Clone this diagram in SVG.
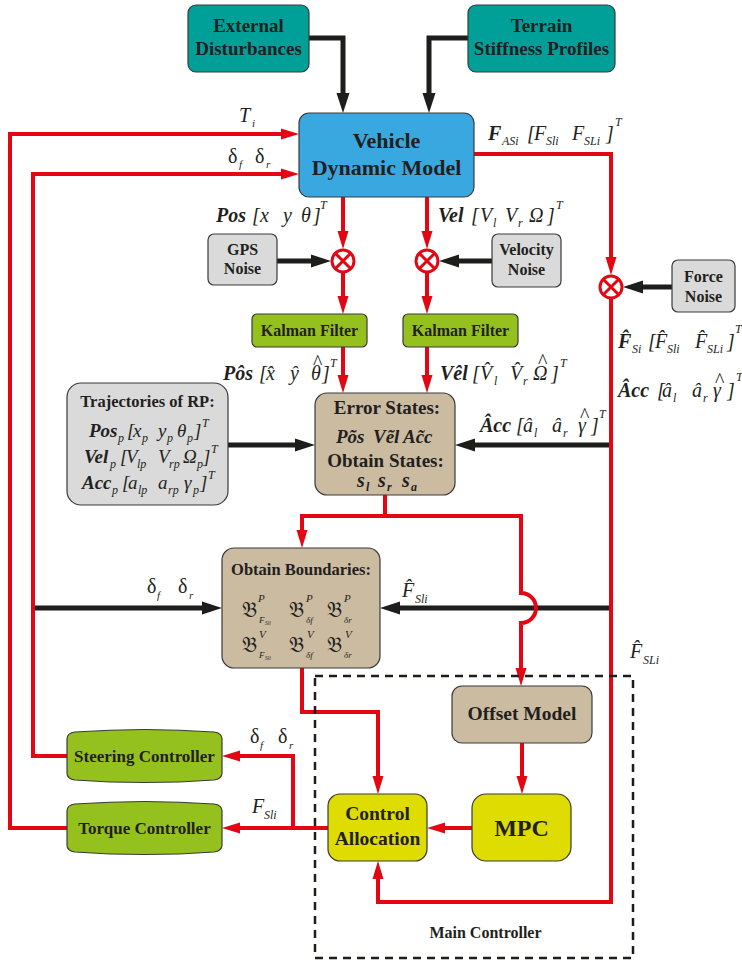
<svg xmlns="http://www.w3.org/2000/svg" width="742" height="965" viewBox="0 0 742 965">
<style>
.t{font-family:"Liberation Serif","Times New Roman",serif;font-weight:bold;fill:#231f20;text-anchor:middle}
.m{font-family:"Liberation Serif","Times New Roman",serif;font-style:italic;font-size:20px;fill:#231f20}
.tr{font-size:19px}
.bi{font-weight:bold}
.up{font-style:normal}
.s{font-size:12px}
.ss{font-size:11px}
.hat{font-style:normal;font-size:20px}
.fk{font-family:"DejaVu Serif","DejaVu Sans","Noto Sans",serif;font-size:21px;font-style:normal}
.box{stroke:#3a3a3a;stroke-width:1.2}
.teal{fill:#00A099}
.blue{fill:#3AA8E0}
.gray{fill:#DADADA}
.green{fill:#95C11F}
.tan{fill:#CBBBA1}
.yel{fill:#DEDC00}
.r{fill:none;stroke:#E30613;stroke-width:4}
.k{fill:none;stroke:#1d1d1b;stroke-width:5}
.ra{marker-end:url(#ar)}
.ka{marker-end:url(#ak)}
.mul{fill:#fff;stroke:#E30613;stroke-width:3}
</style>
<defs>
<marker id="ar" markerUnits="userSpaceOnUse" markerWidth="18" markerHeight="12" refX="10" refY="6" orient="auto"><path d="M0,0.5 L18,6 L0,11.5 Z" fill="#E30613"/></marker>
<marker id="ak" markerUnits="userSpaceOnUse" markerWidth="20" markerHeight="14" refX="10" refY="7" orient="auto"><path d="M0,0.5 L20,7 L0,13.5 Z" fill="#1d1d1b"/></marker>
<g id="mulsym"><circle cx="0" cy="0" r="11" class="mul"/><path d="M-7.8,-7.8 L7.8,7.8 M7.8,-7.8 L-7.8,7.8" stroke="#E30613" stroke-width="3"/></g>
<path id="ctrlshape" d="M67,739 Q67,733 75,732 Q144.5,727 214,732 Q222,733 222,739 V773 Q222,779 214,780 Q144.5,785 75,780 Q67,779 67,773 Z"/>
</defs>

<g id="connectors">
  <path class="k ka" d="M309,38 H343 V103"/>
  <path class="k ka" d="M468,38 H429 V103"/>
  <path class="k ka" d="M277,261 H321"/>
  <path class="k ka" d="M492,261 H449"/>
  <path class="k ka" d="M672,287 H633"/>
  <path class="k ka" d="M228,445 H305"/>
  <path class="k ka" d="M611,445 H465"/>
  <path class="k ka" d="M33,608 H212"/>
  <path class="k ka" d="M611,608 H390"/>

  <path class="r ra" d="M67,828 H10 V134 H291"/>
  <path class="r ra" d="M67,756 H33 V174 H291"/>
  <path class="r ra" d="M474,154 H611 V267"/>
  <path class="r ra" d="M343,197 V241"/>
  <path class="r ra" d="M427,197 V241"/>
  <path class="r ra" d="M343,273 V306"/>
  <path class="r ra" d="M427,273 V306"/>
  <path class="r ra" d="M343,347 V385"/>
  <path class="r ra" d="M427,347 V385"/>
  <path class="r" d="M385,495 V516"/>
  <path class="r" d="M300,516 H523"/>
  <path class="r ra" d="M302,516 V540"/>
  <path class="r ra" d="M521,516 V593 A15,15 0 0 1 521,623 V678"/>
  <path class="r ra" d="M611,299 V902 H378 V869"/>
  <path class="r ra" d="M302,668 V712 H378 V786"/>
  <path class="r ra" d="M522,743 V786"/>
  <path class="r ra" d="M472,828 H435"/>
  <path class="r ra" d="M328,828 H230"/>
  <path class="r ra" d="M293,828 V756 H230"/>
</g>

<rect id="main-controller-frame" x="315" y="676" width="318" height="282" fill="none" stroke="#1d1d1b" stroke-width="2.5" stroke-dasharray="8,6"/>

<g id="external">
  <rect class="box teal" x="188" y="5" width="121" height="67" rx="8"/>
  <text class="t" font-size="19" x="248.5" y="32">External</text>
  <text class="t" font-size="19" x="248.5" y="55">Disturbances</text>
</g>
<g id="terrain">
  <rect class="box teal" x="468" y="5" width="147" height="67" rx="8"/>
  <text class="t" font-size="19" x="541.5" y="32">Terrain</text>
  <text class="t" font-size="19" x="541.5" y="55">Stiffness Profiles</text>
</g>
<g id="vehicle">
  <rect class="box blue" x="299" y="113" width="175" height="84" rx="10"/>
  <text class="t" font-size="22" x="386.5" y="148">Vehicle</text>
  <text class="t" font-size="22" x="386.5" y="175">Dynamic Model</text>
</g>
<g id="gps-noise">
  <rect class="box gray" x="208" y="234" width="69" height="51" rx="6"/>
  <text class="t" font-size="16" x="242.5" y="255">GPS</text>
  <text class="t" font-size="16" x="242.5" y="274">Noise</text>
</g>
<g id="velocity-noise">
  <rect class="box gray" x="492" y="234" width="69" height="53" rx="6"/>
  <text class="t" font-size="16" x="526.5" y="255">Velocity</text>
  <text class="t" font-size="16" x="526.5" y="275">Noise</text>
</g>
<g id="force-noise">
  <rect class="box gray" x="672" y="260" width="63" height="52" rx="6"/>
  <text class="t" font-size="16" x="703.5" y="282">Force</text>
  <text class="t" font-size="16" x="703.5" y="302">Noise</text>
</g>
<g id="mul-pos"><use href="#mulsym" x="343" y="261"/></g>
<g id="mul-vel"><use href="#mulsym" x="427" y="261"/></g>
<g id="mul-force"><use href="#mulsym" x="611" y="287"/></g>
<g id="kalman-pos">
  <rect class="box green" x="252" y="314" width="115" height="33" rx="5"/>
  <text class="t" font-size="16" x="309.5" y="336">Kalman Filter</text>
</g>
<g id="kalman-vel">
  <rect class="box green" x="403" y="314" width="115" height="33" rx="5"/>
  <text class="t" font-size="16" x="460.5" y="336">Kalman Filter</text>
</g>
<g id="trajectories">
  <rect class="box gray" x="67" y="383" width="161" height="122" rx="14"/>
  <text class="t" font-size="16.5" x="147.5" y="407">Trajectories of RP:</text>
  <text class="m tr" y="437"><tspan class="bi" x="89">Pos</tspan><tspan class="s" x="118" y="442">p</tspan><tspan x="127" y="437">[</tspan><tspan x="133">x</tspan><tspan class="s" x="142" y="442">p</tspan><tspan x="158" y="437">y</tspan><tspan class="s" x="167" y="442">p</tspan><tspan x="177" y="437">θ</tspan><tspan class="s" x="187" y="442">p</tspan><tspan x="194" y="437">]</tspan><tspan class="s" x="202" y="427">T</tspan></text>
  <text class="m tr" y="463"><tspan class="bi" x="84">Vel</tspan><tspan class="s" x="110" y="468">p</tspan><tspan x="120" y="463">[</tspan><tspan x="126">V</tspan><tspan class="s" x="137" y="468">lp</tspan><tspan x="158" y="463">V</tspan><tspan class="s" x="169" y="468">rp</tspan><tspan x="183" y="463">Ω</tspan><tspan class="s" x="197" y="468">p</tspan><tspan x="203" y="463">]</tspan><tspan class="s" x="211" y="453">T</tspan></text>
  <text class="m tr" y="489"><tspan class="bi" x="82">Acc</tspan><tspan class="s" x="112" y="494">p</tspan><tspan x="122" y="489">[</tspan><tspan x="128">a</tspan><tspan class="s" x="138" y="494">lp</tspan><tspan x="158" y="489">a</tspan><tspan class="s" x="168" y="494">rp</tspan><tspan x="184" y="489">γ</tspan><tspan class="s" x="193" y="494">p</tspan><tspan x="200" y="489">]</tspan><tspan class="s" x="208" y="479">T</tspan></text>
</g>
<g id="error-states">
  <rect class="box tan" x="315" y="393" width="140" height="102" rx="12"/>
  <text class="t" font-size="19" x="387" y="414">Error States:</text>
  <text class="m bi" style="font-size:19px" y="443"><tspan x="336">Põs</tspan><tspan x="373">Vẽl</tspan><tspan x="403">Ac̃c</tspan></text>
  <text class="t" font-size="19" x="385.5" y="467">Obtain States:</text>
  <text class="m bi" y="487"><tspan x="357">s</tspan><tspan class="s" x="366" y="491">l</tspan><tspan x="378" y="487">s</tspan><tspan class="s" x="387" y="491">r</tspan><tspan x="402" y="487">s</tspan><tspan class="s" x="411" y="491">a</tspan></text>
</g>
<g id="obtain-boundaries">
  <rect class="box tan" x="222" y="548" width="158" height="120" rx="12"/>
  <text class="t" font-size="16.5" x="301" y="575">Obtain Boundaries:</text>
  <text class="m" y="617"><tspan class="fk" x="242">𝔅</tspan><tspan style="font-size:11px" x="258" y="602">P</tspan><tspan style="font-size:9px" x="259" y="623">F</tspan><tspan style="font-size:5.5px" x="265" y="625">Sli</tspan><tspan class="fk" x="289" y="617">𝔅</tspan><tspan style="font-size:11px" x="306" y="602">P</tspan><tspan style="font-size:9px" x="306" y="623">δf</tspan><tspan class="fk" x="327" y="617">𝔅</tspan><tspan style="font-size:11px" x="344" y="602">P</tspan><tspan style="font-size:9px" x="344" y="623">δr</tspan></text>
  <text class="m" y="652"><tspan class="fk" x="242">𝔅</tspan><tspan style="font-size:11px" x="259" y="638">V</tspan><tspan style="font-size:9px" x="259" y="658">F</tspan><tspan style="font-size:5.5px" x="265" y="660">Sli</tspan><tspan class="fk" x="289" y="652">𝔅</tspan><tspan style="font-size:11px" x="307" y="638">V</tspan><tspan style="font-size:9px" x="306" y="658">δf</tspan><tspan class="fk" x="327" y="652">𝔅</tspan><tspan style="font-size:11px" x="345" y="638">V</tspan><tspan style="font-size:9px" x="344" y="658">δr</tspan></text>
</g>
<g id="offset-model">
  <rect class="box tan" x="452" y="686" width="140" height="57" rx="10"/>
  <text class="t" font-size="19.5" x="522" y="720">Offset Model</text>
</g>
<g id="mpc">
  <rect class="box yel" x="472" y="794" width="99" height="67" rx="14"/>
  <text class="t" font-size="24" x="521.5" y="836">MPC</text>
</g>
<g id="control-allocation">
  <rect class="box yel" x="328" y="794" width="99" height="67" rx="12"/>
  <text class="t" font-size="19.5" x="377.5" y="820">Control</text>
  <text class="t" font-size="19.5" x="377.5" y="845">Allocation</text>
</g>
<g id="steering-controller">
  <use href="#ctrlshape" class="box green"/>
  <text class="t" font-size="17" x="144.5" y="762">Steering Controller</text>
</g>
<g id="torque-controller">
  <use href="#ctrlshape" class="box green" transform="translate(0,72)"/>
  <text class="t" font-size="17" x="144.5" y="834">Torque Controller</text>
</g>
<text class="t" font-size="16" x="485.5" y="938">Main Controller</text>

<g id="labels">
  <text class="m" x="239" y="122">T<tspan class="ss" x="252" y="127">i</tspan></text>
  <text class="m" y="163"><tspan class="up" x="228">δ</tspan><tspan class="ss" x="239" y="168">f</tspan><tspan class="up" x="255" y="163">δ</tspan><tspan class="ss" x="266" y="168">r</tspan></text>
  <text class="m" y="140"><tspan class="bi" x="488">F</tspan><tspan class="s" x="502" y="145">ASi</tspan><tspan x="527" y="140">[</tspan><tspan x="534">F</tspan><tspan class="s" x="546" y="145">Sli</tspan><tspan x="572" y="140">F</tspan><tspan class="s" x="584" y="145">SLi</tspan><tspan x="606" y="140">]</tspan><tspan class="s" x="615" y="126">T</tspan></text>
  <text class="m" y="222"><tspan class="bi" x="216">Pos</tspan><tspan x="252">[</tspan><tspan x="260">x</tspan><tspan x="283">y</tspan><tspan x="301">θ</tspan><tspan x="313">]</tspan><tspan class="s" x="320" y="209">T</tspan></text>
  <text class="m" y="222"><tspan class="bi" x="438">Vel</tspan><tspan x="471">[</tspan><tspan x="480">V</tspan><tspan class="s" x="493" y="227">l</tspan><tspan x="505" y="222">V</tspan><tspan class="s" x="518" y="227">r</tspan><tspan x="529" y="222">Ω</tspan><tspan x="547">]</tspan><tspan class="s" x="556" y="209">T</tspan></text>

  <text class="m" y="380"><tspan class="bi" x="223">Pôs</tspan><tspan x="259">[</tspan><tspan x="266">x̂</tspan><tspan x="290">ŷ</tspan><tspan x="311">θ</tspan><tspan class="hat" x="313" y="369">^</tspan><tspan x="322" y="380">]</tspan><tspan class="s" x="330" y="367">T</tspan></text>
  <text class="m" y="380"><tspan class="bi" x="440">Vêl</tspan><tspan x="472">[</tspan><tspan x="480">V̂</tspan><tspan class="s" x="494" y="385">l</tspan><tspan x="510" y="380">V̂</tspan><tspan class="s" x="523" y="385">r</tspan><tspan x="533" y="380">Ω</tspan><tspan class="hat" x="538" y="368">^</tspan><tspan x="551" y="380">]</tspan><tspan class="s" x="560" y="367">T</tspan></text>
  <text class="m" y="432"><tspan class="bi" x="480">Âcc</tspan><tspan x="516">[</tspan><tspan x="523">â</tspan><tspan class="s" x="534" y="437">l</tspan><tspan x="552" y="432">â</tspan><tspan class="s" x="563" y="437">r</tspan><tspan x="578" y="432">γ</tspan><tspan class="hat" x="580" y="422">^</tspan><tspan x="591" y="432">]</tspan><tspan class="s" x="599" y="418">T</tspan></text>
  <text class="m" y="348"><tspan class="bi" x="618">F̂</tspan><tspan class="s" x="632" y="353">Si</tspan><tspan x="648" y="348">[</tspan><tspan x="655">F̂</tspan><tspan class="s" x="667" y="353">Sli</tspan><tspan x="695" y="348">F̂</tspan><tspan class="s" x="707" y="353">SLi</tspan><tspan x="727" y="348">]</tspan><tspan class="s" x="735" y="333">T</tspan></text>
  <text class="m" y="397"><tspan class="bi" x="618">Âcc</tspan><tspan x="657">[</tspan><tspan x="662">â</tspan><tspan class="s" x="673" y="402">l</tspan><tspan x="692" y="397">â</tspan><tspan class="s" x="703" y="402">r</tspan><tspan x="713" y="397">γ</tspan><tspan class="hat" x="715" y="387">^</tspan><tspan x="727" y="397">]</tspan><tspan class="s" x="736" y="381">T</tspan></text>

  <text class="m" y="593"><tspan class="up" x="147">δ</tspan><tspan class="ss" x="157" y="599">f</tspan><tspan class="up" x="178" y="593">δ</tspan><tspan class="ss" x="189" y="599">r</tspan></text>
  <text class="m" x="402" y="597">F̂<tspan class="s" x="415" y="603">Sli</tspan></text>
  <text class="m" x="630" y="658">F̂<tspan class="s" x="643" y="664">SLi</tspan></text>
  <text class="m" y="743"><tspan class="up" x="250">δ</tspan><tspan class="ss" x="260" y="749">f</tspan><tspan class="up" x="278" y="743">δ</tspan><tspan class="ss" x="289" y="749">r</tspan></text>
  <text class="m" x="252" y="813">F<tspan class="s" x="264" y="819">Sli</tspan></text>
</g>
</svg>
